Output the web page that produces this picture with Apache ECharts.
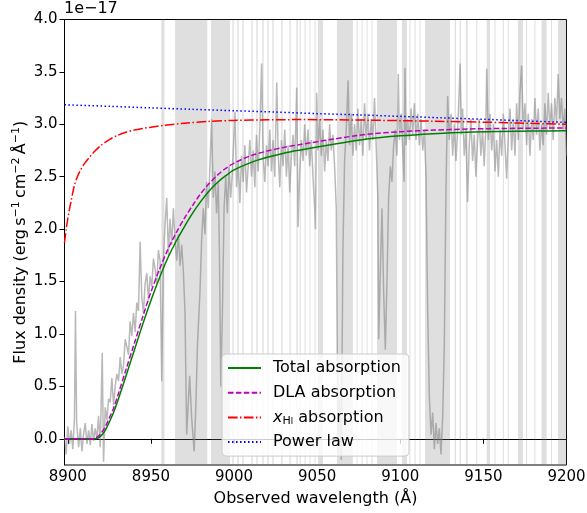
<!DOCTYPE html>
<html><head><meta charset="utf-8">
<script src="https://cdn.jsdelivr.net/npm/echarts@6/dist/echarts.min.js"></script>
<style>html,body{margin:0;padding:0;background:#fff}#c{width:587px;height:513px}</style>
</head><body><div id="c"></div>
<script>
// ---- data (flux in units of 1e-17 erg s^-1 cm^-2 Å^-1) ----
const xTicks = [8900, 8950, 9000, 9050, 9100, 9150, 9200];
const yTicks = [0, 0.5, 1.0, 1.5, 2.0, 2.5, 3.0, 3.5, 4.0];

const specWl = [8898.0,8899.0,8900.0,8901.0,8902.0,8903.0,8904.0,8904.6,8905.3,8906.5,8907.5,8908.5,8909.5,8910.5,8911.5,8912.5,8913.5,8914.5,8915.5,8916.5,8917.5,8918.5,8919.5,8920.7,8921.5,8922.5,8923.5,8924.5,8925.5,8926.5,8927.5,8928.5,8929.5,8930.5,8931.5,8932.5,8933.5,8934.5,8935.5,8936.5,8937.5,8938.5,8939.5,8940.5,8941.5,8942.5,8943.5,8944.5,8945.5,8946.5,8947.5,8948.5,8949.5,8950.5,8951.5,8952.5,8953.5,8954.5,8955.5,8956.5,8957.5,8958.5,8959.5,8960.5,8961.5,8962.5,8963.5,8964.5,8965.5,8966.5,8967.5,8968.5,8969.5,8970.5,8971.5,8972.5,8973.3,8974.5,8976.0,8977.0,8978.0,8979.5,8980.5,8981.5,8982.5,8983.5,8984.5,8985.5,8986.5,8987.5,8988.5,8989.5,8990.5,8991.2,8992.0,8993.0,8994.0,8995.0,8996.0,8997.0,8998.0,8999.0,9000.6,9001.5,9002.5,9003.5,9004.5,9005.5,9006.5,9007.5,9008.5,9009.5,9010.5,9011.5,9012.5,9013.5,9014.5,9015.6,9016.6,9017.5,9018.5,9019.5,9020.5,9021.5,9022.5,9023.5,9024.5,9025.7,9026.5,9027.5,9028.5,9029.5,9030.5,9031.5,9032.5,9033.5,9034.5,9035.5,9036.5,9037.7,9038.5,9039.5,9040.5,9041.5,9042.5,9043.5,9044.5,9045.5,9046.5,9047.5,9048.5,9049.0,9049.7,9050.5,9051.5,9052.5,9053.5,9054.5,9055.5,9056.5,9057.5,9058.5,9059.5,9060.5,9061.5,9062.5,9063.5,9064.5,9065.5,9066.5,9067.5,9068.6,9069.5,9070.5,9071.5,9072.5,9073.5,9074.5,9075.5,9076.5,9077.5,9078.5,9079.5,9080.5,9081.5,9082.5,9083.5,9084.5,9085.5,9086.5,9087.0,9088.0,9089.0,9090.0,9091.0,9092.0,9093.0,9094.0,9095.0,9096.0,9097.0,9098.0,9098.8,9099.5,9100.5,9101.5,9102.3,9102.8,9103.5,9104.5,9105.5,9106.5,9107.5,9108.5,9109.5,9110.5,9111.5,9112.5,9113.5,9114.5,9115.5,9116.5,9117.5,9118.5,9119.5,9120.5,9121.5,9122.5,9123.5,9124.5,9125.5,9126.5,9127.5,9128.5,9129.5,9130.5,9131.5,9132.5,9133.5,9134.5,9135.2,9136.0,9136.8,9137.5,9138.5,9139.5,9140.5,9141.5,9142.5,9143.5,9144.5,9145.5,9146.5,9147.5,9148.5,9149.5,9150.5,9151.5,9152.0,9153.0,9154.0,9155.0,9156.0,9157.0,9158.0,9159.0,9160.0,9161.0,9162.0,9163.0,9164.0,9165.0,9166.0,9167.0,9168.0,9169.0,9170.0,9171.0,9172.0,9173.0,9174.0,9175.0,9176.0,9177.0,9178.0,9179.0,9180.0,9181.0,9182.0,9183.0,9184.0,9185.0,9186.0,9187.0,9188.0,9189.0,9190.0,9191.0,9192.0,9193.0,9194.0,9195.0,9196.0,9197.0,9198.0,9199.0,9200.0];
const specFlux = [0.02,-0.15,0.12,-0.05,0.08,-0.10,0.20,1.22,0.15,-0.08,0.10,-0.12,0.05,0.15,-0.05,0.08,-0.06,0.14,-0.02,0.10,0.00,0.22,-0.08,0.82,-0.22,0.30,0.18,0.38,0.35,0.58,0.32,0.50,0.62,0.55,0.78,0.62,0.70,0.95,0.88,0.80,1.12,0.98,1.20,1.02,1.30,1.22,1.88,1.35,1.20,1.48,1.58,1.32,1.55,1.45,1.72,1.62,1.48,1.80,1.70,0.55,1.70,2.05,2.30,1.75,2.10,1.85,2.20,1.90,1.70,1.95,1.65,1.85,1.60,1.20,0.04,0.35,0.60,0.20,-0.12,0.30,0.90,1.40,1.90,2.20,1.95,2.45,2.20,2.60,3.05,2.30,2.55,2.15,2.45,1.80,0.50,1.20,2.20,2.50,2.15,2.60,2.30,2.55,3.12,2.40,2.65,2.25,2.70,2.45,2.80,2.35,2.60,2.85,2.50,2.75,2.40,2.90,2.55,3.00,3.58,2.70,2.45,2.80,2.60,2.95,2.55,2.85,2.50,3.40,2.75,2.40,2.85,2.60,2.95,2.50,2.80,2.35,2.70,2.90,2.60,3.35,2.02,2.55,2.85,2.65,3.00,2.70,2.95,2.60,2.85,2.50,2.20,2.00,3.30,2.75,3.05,2.70,2.95,2.55,2.85,2.65,3.00,2.75,2.90,2.60,2.20,-0.15,0.40,-0.20,1.80,2.65,2.95,3.42,2.80,3.10,2.70,3.00,2.75,3.15,2.80,3.05,2.70,3.20,2.85,3.10,2.75,3.05,2.85,3.25,2.80,2.30,0.95,1.60,2.20,1.40,0.85,1.50,2.30,2.60,2.45,2.80,2.95,2.70,3.48,2.85,3.10,2.75,2.45,3.54,2.80,3.05,2.85,3.15,2.90,3.20,2.85,3.10,2.80,3.05,2.75,2.95,2.50,1.20,0.40,0.04,0.25,-0.10,0.15,-0.05,0.10,-0.15,0.20,0.90,2.40,3.27,2.85,3.10,2.70,3.00,2.65,2.95,3.20,3.58,2.90,3.15,2.70,2.95,2.26,2.80,3.05,2.65,2.90,2.50,2.85,3.05,2.70,2.95,2.60,3.00,3.53,2.85,3.10,2.75,3.00,2.55,2.85,2.50,2.95,2.70,3.10,2.80,2.48,2.90,3.15,2.75,3.05,2.70,3.20,2.85,3.30,3.56,2.95,3.20,2.80,3.10,2.70,3.05,2.85,3.25,2.90,3.15,2.75,3.00,2.80,3.20,2.90,3.30,2.95,3.20,2.85,3.25,3.00,3.48,3.05,3.25,2.95,3.15,2.70];

const totalWl  = [8898,8905,8910,8915,8917,8919,8921,8923,8925,8927.5,8930,8935,8940,8945,8950,8955,8960,8965,8970,8975,8980,8985,8990,8995,9000,9010,9020,9030,9040,9060,9080,9100,9120,9140,9160,9180,9200];
const totalVal = [0,0,0,0,0,0.015,0.045,0.095,0.16,0.25,0.36,0.60,0.845,1.09,1.32,1.53,1.72,1.88,2.02,2.15,2.265,2.365,2.445,2.51,2.565,2.635,2.685,2.725,2.755,2.81,2.86,2.89,2.91,2.925,2.932,2.936,2.938];

const dlaWl  = [8898,8905,8910,8915,8917,8919,8921,8923,8925,8927.5,8930,8935,8940,8945,8950,8955,8960,8965,8970,8975,8980,8985,8990,8995,9000,9010,9020,9030,9040,9060,9080,9100,9120,9140,9160,9180,9200];
const dlaVal = [0,0,0,0,0.01,0.035,0.075,0.13,0.20,0.29,0.41,0.66,0.91,1.16,1.40,1.61,1.80,1.96,2.10,2.225,2.34,2.435,2.515,2.58,2.63,2.70,2.745,2.78,2.808,2.86,2.905,2.93,2.945,2.955,2.96,2.963,2.965];

const xhiWl  = [8898,8899,8900,8901,8902,8903,8904,8905.5,8907.5,8910,8913,8916,8920,8925,8930,8935,8940,8945,8950,8958,8970,8985,9000,9020,9040,9060,9080,9100,9120,9140,9160,9180,9200];
const xhiVal = [1.87,2.00,2.10,2.19,2.27,2.35,2.42,2.49,2.56,2.625,2.685,2.74,2.80,2.855,2.895,2.925,2.945,2.96,2.973,2.99,3.01,3.028,3.037,3.043,3.045,3.043,3.04,3.035,3.03,3.024,3.017,3.009,3.0];

const plawWl  = [8898,8925,8950,8975,9000,9025,9050,9075,9100,9125,9150,9175,9200];
const plawVal = [3.186,3.172,3.157,3.143,3.130,3.117,3.102,3.090,3.076,3.062,3.048,3.033,3.018];

// masked wavelength ranges (Å)
const maskStart = [8956.3,8964.5,8986.2,8999.0,9002.0,9005.0,9010.4,9013.4,9017.0,9020.0,9023.0,9028.4,9033.3,9037.5,9039.5,9042.4,9045.4,9048.4,9050.5,9061.9,9073.7,9076.7,9079.7,9082.7,9086.0,9101.0,9105.5,9108.6,9111.6,9114.9,9132.7,9135.7,9139.5,9145.7,9152.0,9156.7,9161.7,9164.7,9170.8,9175.7,9180.7,9185.0,9190.7,9194.9];
const maskEnd   = [8958.1,8983.9,8997.6,8999.8,9002.8,9005.8,9011.2,9014.2,9017.8,9020.8,9023.8,9029.2,9034.1,9038.3,9040.1,9043.0,9046.0,9049.0,9053.5,9071.5,9074.3,9077.3,9080.3,9083.3,9098.0,9104.0,9106.1,9109.2,9112.2,9129.9,9133.5,9136.5,9140.5,9146.3,9154.0,9157.3,9162.3,9165.3,9173.8,9176.3,9181.3,9188.0,9191.3,9200.0];

const names = ['Total absorption', 'DLA absorption', 'xHI absorption', 'Power law'];

// ---- chart ----
const pairs = (xs, ys) => xs.map((x, i) => [x, ys[i]]);
const FONT = 'DejaVu Sans';
const chart = echarts.init(document.getElementById('c'), null, {renderer: 'canvas'});

const option = {
  animation: false,
  textStyle: {fontFamily: FONT},
  grid: {left: 64.5, right: 20.5, top: 19.5, bottom: 48, containLabel: false, outerBoundsMode: 'none',
    show: true, borderColor: '#000', borderWidth: 1, backgroundColor: 'transparent'},
  xAxis: {
    type: 'value', min: 8898, max: 9200,
    axisLine: {show: true, lineStyle: {color: '#000', width: 1}},
    axisTick: {show: true, length: 5, inside: false, customValues: xTicks, lineStyle: {color: '#000'}},
    axisLabel: {customValues: xTicks, color: '#000', fontSize: 15, fontFamily: FONT, margin: 5, formatter: v => String(v)},
    splitLine: {show: false},
    name: 'Observed wavelength (Å)', nameLocation: 'middle', nameGap: 26, nameMoveOverlap: false,
    nameTextStyle: {color: '#000', fontSize: 16, fontFamily: FONT}
  },
  yAxis: {
    type: 'value', min: -0.25, max: 4.0,
    axisLine: {show: true, lineStyle: {color: '#000', width: 1}},
    axisTick: {show: true, length: 5, inside: false, customValues: yTicks, lineStyle: {color: '#000'}},
    axisLabel: {customValues: yTicks, color: '#000', fontSize: 15, fontFamily: FONT, margin: 7, formatter: v => v.toFixed(1)},
    splitLine: {show: false},
    name: '{n|Flux density (erg\u2009s}{sup|\u22121}{n|\u2009cm}{sup|\u22122}{n|\u2009Å}{sup|\u22121}{n|)}',
    nameLocation: 'middle', nameGap: 34, nameRotate: 90, nameMoveOverlap: false,
    nameTextStyle: {color: '#000', fontSize: 16, fontFamily: FONT,
      rich: {
        n: {fontSize: 16, fontFamily: FONT, color: '#000', lineHeight: 20},
        sup: {fontSize: 11, fontFamily: FONT, color: '#000', verticalAlign: 'top', lineHeight: 11, padding: [0, 0, 9, 0]}
      }}
  },
  legend: {
    data: names, orient: 'vertical', left: 222, top: 354,
    itemWidth: 33, itemHeight: 14, itemGap: 6.7,
    padding: [5, 8, 5, 5],
    itemStyle: {opacity: 0},
    backgroundColor: 'rgba(255,255,255,0.8)', borderColor: '#cccccc', borderWidth: 1, borderRadius: 4,
    textStyle: {color: '#000', fontSize: 16, fontFamily: FONT, padding: [0, 0, 0, 7], lineHeight: 18,
      rich: {
        it: {fontStyle: 'italic', fontSize: 16, fontFamily: FONT, color: '#000', lineHeight: 18},
        sub: {fontSize: 11, fontFamily: FONT, color: '#000', verticalAlign: 'bottom', lineHeight: 12, padding: [6, 0, 0, 0]},
        subsub: {fontSize: 8, fontFamily: FONT, color: '#000', verticalAlign: 'bottom', lineHeight: 8, padding: [10, 0, 0, 0]},
        n: {fontSize: 16, fontFamily: FONT, color: '#000', lineHeight: 18}
      }},
    formatter: name => name === 'xHI absorption' ? '{it|x}{sub|H}{subsub|I}{n| absorption}' : name
  },
  graphic: [{type: 'text', left: 64, top: 1, style: {text: '1e\u221217', fill: '#000', font: '16px "DejaVu Sans"'}}],
  series: [
    {type: 'line', name: 'mask', data: [], z: 1, silent: true,
      markArea: {silent: true, itemStyle: {color: 'rgba(128,128,128,0.25)'},
        data: maskStart.map((s, i) => [{xAxis: s}, {xAxis: maskEnd[i]}])}},
    {type: 'line', name: 'spectrum', data: pairs(specWl, specFlux), symbol: 'none', z: 2,
      lineStyle: {color: 'rgba(128,128,128,0.55)', width: 1.5}},
    {type: 'line', name: names[0], data: pairs(totalWl, totalVal), symbol: 'none', smooth: 0.3, z: 5,
      itemStyle: {color: '#008000'}, lineStyle: {color: '#008000', width: 1.5}},
    {type: 'line', name: names[1], data: pairs(dlaWl, dlaVal), symbol: 'none', smooth: 0.3, z: 5,
      itemStyle: {color: '#bf00bf'}, lineStyle: {color: '#bf00bf', width: 1.5, type: [5.5, 2.4]}},
    {type: 'line', name: names[2], data: pairs(xhiWl, xhiVal), symbol: 'none', smooth: 0.3, z: 5,
      itemStyle: {color: '#ff0000'}, lineStyle: {color: '#ff0000', width: 1.5, type: [9.6, 2.4, 1.5, 2.4]}},
    {type: 'line', name: names[3], data: pairs(plawWl, plawVal), symbol: 'none', smooth: 0.3, z: 5,
      itemStyle: {color: '#0000ff'}, lineStyle: {color: '#0000ff', width: 1.5, type: [1.5, 2.5]}}
  ]
};
chart.setOption(option);
</script></body></html>
